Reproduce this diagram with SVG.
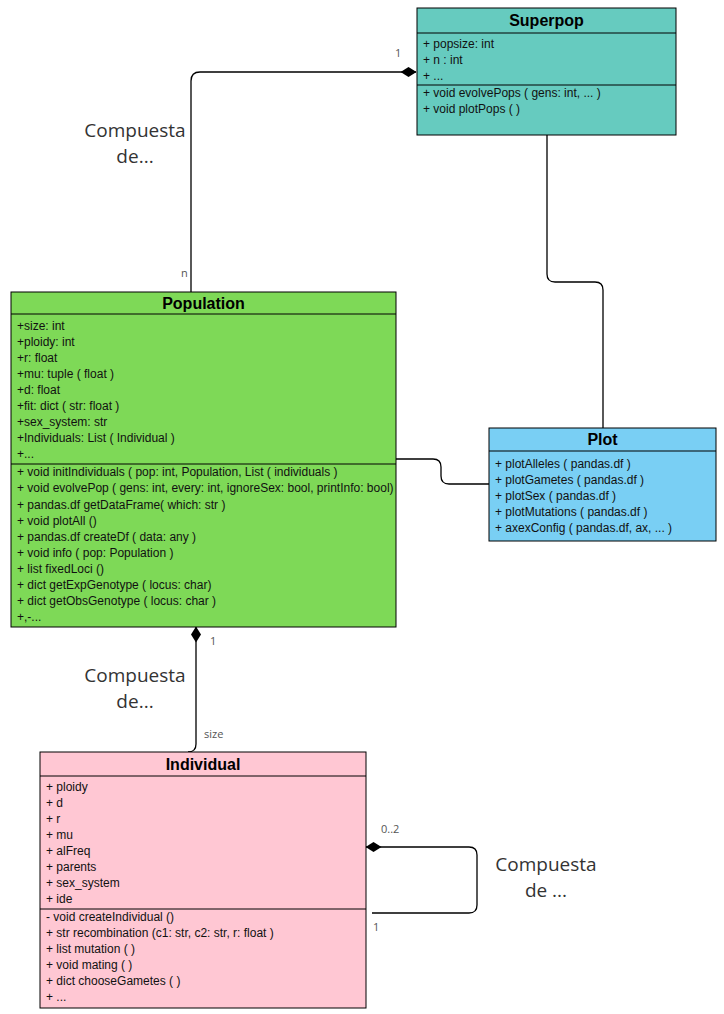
<svg xmlns="http://www.w3.org/2000/svg" width="724" height="1014" viewBox="0 0 724 1014">
  <style>
    .box { stroke: #000; stroke-width: 1; }
    .sep { stroke: #000; stroke-width: 1; }
    .title { font-family: "Liberation Sans", Arial, sans-serif; font-size: 16px; font-weight: bold; fill: #000; text-anchor: middle; }
    .row { font-family: "Liberation Sans", Arial, sans-serif; font-size: 12px; fill: #111; }
    .edge { fill: none; stroke: #000; stroke-width: 1.3; }
    .note { font-family: "Open Sans", "DejaVu Sans", sans-serif; font-size: 19px; fill: #333; text-anchor: middle; }
    .mult { font-family: "Open Sans", "DejaVu Sans", sans-serif; font-size: 11px; fill: #555; }
  </style>
  <defs>
    <marker id="diamond" viewBox="0 0 16 10" refX="15.5" refY="5" markerWidth="16" markerHeight="10" markerUnits="userSpaceOnUse" orient="auto-start-reverse">
      <path d="M0 5 L8 0 L16 5 L8 10 Z" fill="#000"/>
    </marker>
  </defs>
  <rect width="724" height="1014" fill="#fff"/>

  <!-- connectors -->
  <g id="connectors">
    <path class="edge" d="M416 72 H200 Q191 72 191 81 V292" marker-start="url(#diamond)"/>
    <path class="edge" d="M547 135 V274 Q547 282 555 282 H595 Q603 282 603 290 V428"/>
    <path class="edge" d="M396 459 H433 Q441 459 441 467 V476 Q441 484 449 484 H489"/>
    <path class="edge" d="M196 627 V744 Q196 752 188 752" marker-start="url(#diamond)"/>
    <path class="edge" d="M366 847 H469 Q477 847 477 855 V905 Q477 913 469 913 H372" marker-start="url(#diamond)"/>
    <text class="mult" x="395" y="57">1</text>
    <text class="mult" x="181" y="277">n</text>
    <text class="mult" x="210" y="645">1</text>
    <text class="mult" x="204" y="738">size</text>
    <text class="mult" x="381" y="833">0..2</text>
    <text class="mult" x="373" y="931">1</text>
    <text class="note" x="135" y="137">Compuesta</text>
    <text class="note" x="135" y="163">de...</text>
    <text class="note" x="135" y="682">Compuesta</text>
    <text class="note" x="135" y="708">de...</text>
    <text class="note" x="546" y="871">Compuesta</text>
    <text class="note" x="546" y="897">de ...</text>
  </g>

  <!-- Superpop -->
  <g id="superpop">
    <rect class="box" x="417" y="8" width="259" height="127" fill="#66CBBF"/>
    <line class="sep" x1="417" y1="33" x2="676" y2="33"/>
    <line class="sep" x1="417" y1="85" x2="676" y2="85"/>
    <text class="title" x="546.5" y="26">Superpop</text>
    <text class="row" x="423" y="48">+ popsize: int</text>
    <text class="row" x="423" y="64">+ n : int</text>
    <text class="row" x="423" y="80">+ ...</text>
    <text class="row" x="423" y="97">+ void evolvePops ( gens: int, ... )</text>
    <text class="row" x="423" y="113">+ void plotPops ( )</text>
  </g>

  <!-- Population -->
  <g id="population">
    <rect class="box" x="11" y="292" width="385" height="335" fill="#7ED957"/>
    <line class="sep" x1="11" y1="314" x2="396" y2="314"/>
    <line class="sep" x1="11" y1="464" x2="396" y2="464"/>
    <text class="title" x="203.5" y="309">Population</text>
    <text class="row" x="17" y="330">+size: int</text>
    <text class="row" x="17" y="346">+ploidy: int</text>
    <text class="row" x="17" y="362">+r: float</text>
    <text class="row" x="17" y="378">+mu: tuple ( float )</text>
    <text class="row" x="17" y="394">+d: float</text>
    <text class="row" x="17" y="410">+fit: dict ( str: float )</text>
    <text class="row" x="17" y="426">+sex_system: str</text>
    <text class="row" x="17" y="442">+Individuals: List ( Individual )</text>
    <text class="row" x="17" y="458">+...</text>
    <text class="row" x="17" y="476">+ void initIndividuals ( pop: int, Population, List ( individuals )</text>
    <text class="row" x="17" y="492">+ void evolvePop ( gens: int, every: int, ignoreSex: bool, printInfo: bool)</text>
    <text class="row" x="17" y="509">+ pandas.df getDataFrame( which: str )</text>
    <text class="row" x="17" y="525">+ void plotAll ()</text>
    <text class="row" x="17" y="541">+ pandas.df createDf ( data: any )</text>
    <text class="row" x="17" y="557">+ void info ( pop: Population )</text>
    <text class="row" x="17" y="573">+ list fixedLoci ()</text>
    <text class="row" x="17" y="589">+ dict getExpGenotype ( locus: char)</text>
    <text class="row" x="17" y="605">+ dict getObsGenotype ( locus: char )</text>
    <text class="row" x="17" y="621">+,-...</text>
  </g>

  <!-- Plot -->
  <g id="plot">
    <rect class="box" x="489" y="428" width="227" height="113" fill="#79CFF4"/>
    <line class="sep" x1="489" y1="451" x2="716" y2="451"/>
    <text class="title" x="602.5" y="445">Plot</text>
    <text class="row" x="495" y="468">+ plotAlleles ( pandas.df )</text>
    <text class="row" x="495" y="484">+ plotGametes ( pandas.df )</text>
    <text class="row" x="495" y="500">+ plotSex ( pandas.df )</text>
    <text class="row" x="495" y="516">+ plotMutations ( pandas.df )</text>
    <text class="row" x="495" y="532">+ axexConfig ( pandas.df, ax, ... )</text>
  </g>

  <!-- Individual -->
  <g id="individual">
    <rect class="box" x="40" y="752" width="326" height="256" fill="#FFC7D3"/>
    <line class="sep" x1="40" y1="776" x2="366" y2="776"/>
    <line class="sep" x1="40" y1="909" x2="366" y2="909"/>
    <text class="title" x="203" y="770">Individual</text>
    <text class="row" x="46" y="791">+ ploidy</text>
    <text class="row" x="46" y="807">+ d</text>
    <text class="row" x="46" y="823">+ r</text>
    <text class="row" x="46" y="839">+ mu</text>
    <text class="row" x="46" y="855">+ alFreq</text>
    <text class="row" x="46" y="871">+ parents</text>
    <text class="row" x="46" y="887">+ sex_system</text>
    <text class="row" x="46" y="903">+ ide</text>
    <text class="row" x="46" y="921">- void createIndividual ()</text>
    <text class="row" x="46" y="937">+ str recombination (c1: str, c2: str, r: float )</text>
    <text class="row" x="46" y="953">+ list mutation ( )</text>
    <text class="row" x="46" y="969">+ void mating ( )</text>
    <text class="row" x="46" y="985">+ dict chooseGametes ( )</text>
    <text class="row" x="46" y="1001">+ ...</text>
  </g>
</svg>
